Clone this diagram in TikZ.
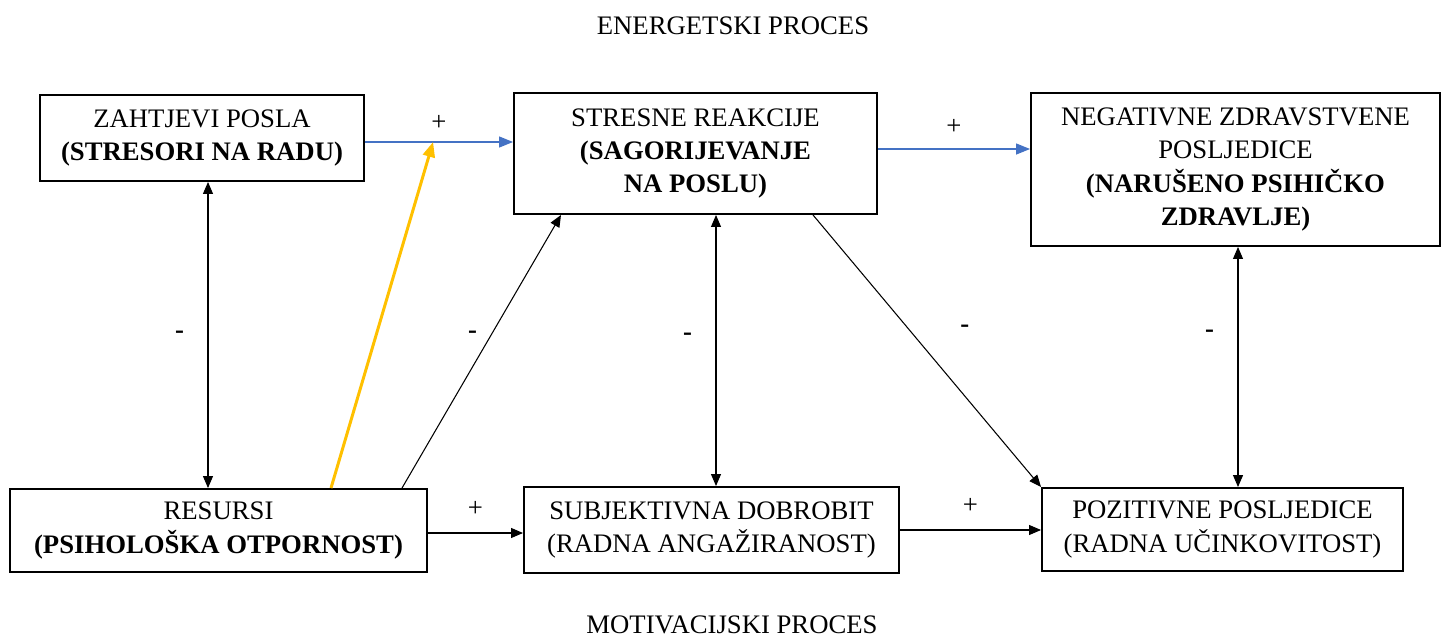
\documentclass[tikz,border=0pt]{standalone}
\usepackage{fontspec}
\setmainfont{Liberation Serif}
\usepackage{xcolor}
\usepackage{tikz}
\usetikzlibrary{arrows.meta,positioning,calc}

\definecolor{linkblue}{HTML}{4472C4}
\definecolor{modorange}{HTML}{FFC000}
\newcommand{\boxfont}{\fontsize{15.2}{18.8}\selectfont}

\begin{document}
\begin{tikzpicture}[
  >={Triangle[length=0.24cm, width=0.2cm]},
  box/.style={draw, line width=1.1pt, align=center, inner sep=0pt,
              font=\boxfont, anchor=center},
  title/.style={font=\boxfont, anchor=center},
  sign/.style={font=\boxfont, inner sep=2pt},
  link/.style={->, line width=0.6pt},
  twoway/.style={<->, line width=0.6pt},
  energy/.style={->, line width=0.75pt, draw=linkblue,
                 >={Triangle[length=0.28cm, width=0.22cm]}, color=linkblue},
  moderator/.style={->, line width=1.7pt, draw=modorange, color=modorange,
                    >={Triangle[length=0.3cm, width=0.24cm]}},
]
\useasboundingbox (0,0) rectangle (28.82,12.66);

% === Process titles ===
\node[title] (energetski) at (14.66, 12.14) {ENERGETSKI PROCES};
\node[title] (motivacijski) at (14.64, 0.16) {MOTIVACIJSKI PROCES};

% === Top row ===
\node[box, minimum width=6.48cm, minimum height=1.72cm] (zahtjevi) at (4.04, 9.90)
  {ZAHTJEVI POSLA\\\textbf{(STRESORI NA RADU)}};
\node[box, minimum width=7.26cm, minimum height=2.42cm] (stresne) at (13.91, 9.59)
  {STRESNE REAKCIJE\\\textbf{(SAGORIJEVANJE}\\\textbf{NA POSLU)}};
\node[box, minimum width=8.18cm, minimum height=3.06cm] (negativne) at (24.71, 9.27)
  {NEGATIVNE ZDRAVSTVENE\\POSLJEDICE\\\textbf{(NARUŠENO PSIHIČKO}\\\textbf{ZDRAVLJE)}};

% === Bottom row ===
\node[box, minimum width=8.34cm, minimum height=1.66cm] (resursi) at (4.37, 2.05)
  {RESURSI\\\textbf{(PSIHOLOŠKA OTPORNOST)}};
\node[box, minimum width=7.5cm, minimum height=1.72cm] (subjektivna) at (14.23, 2.06)
  {SUBJEKTIVNA DOBROBIT\\(RADNA ANGAŽIRANOST)};
\node[box, minimum width=7.22cm, minimum height=1.66cm] (pozitivne) at (24.45, 2.07)
  {POZITIVNE POSLJEDICE\\(RADNA UČINKOVITOST)};

% === Energetic path (blue) ===
\draw[energy] ([yshift=-0.08cm]zahtjevi.east)
  -- node[sign, above=0.15cm, text=black] (plusA) {+}
  ([yshift=-0.08cm]zahtjevi.east -| stresne.west)
  coordinate[pos=0.46] (moderated);
\draw[energy] ([yshift=0.09cm]stresne.east)
  -- node[sign, above=0.2cm, text=black] (plusB) {+}
  ([yshift=0.09cm]stresne.east -| negativne.west);

% === Moderation (orange) ===
\draw[moderator] ([xshift=2.25cm]resursi.north) -- (moderated);

% === Negative links ===
\draw[twoway] ([xshift=0.12cm]zahtjevi.south)
  -- node[sign, left=0.4cm] (minusA) {\textbf{-}}
  ([xshift=0.12cm]zahtjevi.south |- resursi.north);
\draw[link] ([xshift=3.67cm]resursi.north)
  -- node[sign, pos=0.56, left=0.2cm] (minusB) {\textbf{-}}
  ([xshift=-2.69cm]stresne.south);
\draw[twoway] ([xshift=0.41cm]stresne.south)
  -- node[sign, pos=0.45, left=0.4cm] (minusC) {\textbf{-}}
  ([xshift=0.41cm]stresne.south |- subjektivna.north);
\draw[link] ([xshift=2.35cm]stresne.south)
  -- node[sign, pos=0.42, right=0.95cm] (minusD) {\textbf{-}}
  (pozitivne.north west);
\draw[twoway] ([xshift=0.05cm]negativne.south)
  -- node[sign, pos=0.36, left=0.4cm] (minusE) {\textbf{-}}
  ([xshift=0.05cm]negativne.south |- pozitivne.north);

% === Motivational path ===
\draw[link] ([yshift=-0.05cm]resursi.east)
  -- node[sign, above=0.25cm] (plusC) {+}
  ([yshift=-0.05cm]resursi.east -| subjektivna.west);
\draw[link] (subjektivna.east)
  -- node[sign, above=0.25cm] (plusD) {+}
  (subjektivna.east -| pozitivne.west);

\end{tikzpicture}
\end{document}
